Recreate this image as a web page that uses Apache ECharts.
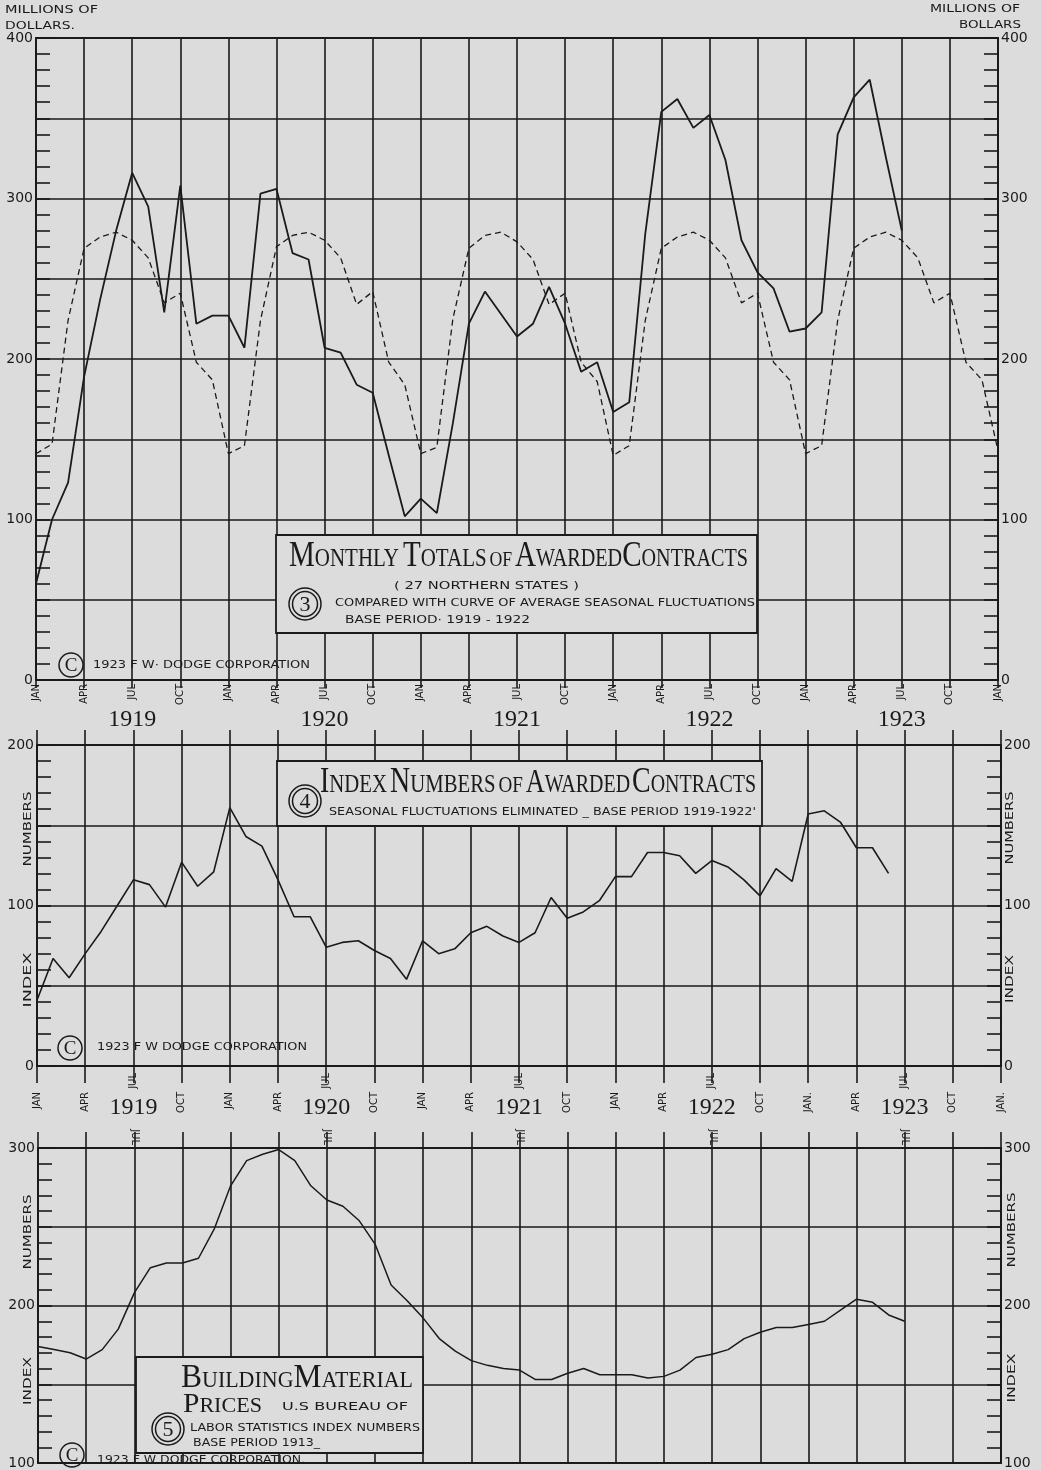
<!DOCTYPE html>
<html><head><meta charset="utf-8">
<script src="https://cdn.jsdelivr.net/npm/echarts@6/dist/echarts.min.js"></script>
<style>html,body{margin:0;padding:0;background:#dcdcdc}#c{width:1041px;height:1470px}</style>
</head><body><div id="c"></div><script>
// ---------------- DATA ----------------
const quarterLabels = ['JAN', 'APR', 'JUL', 'OCT'];
const yearLabels = ['1919', '1920', '1921', '1922', '1923'];

// Chart 3: monthly totals of awarded contracts, millions of dollars, Jan 1919 - Jul 1923
const contractTotals = [
  60, 100, 123, 189, 237, 280, 316, 295, 229, 308, 222, 227,
  227, 207, 303, 306, 266, 262, 207, 204, 184, 179, 140, 102,
  113, 104, 160, 222, 242, 228, 214, 222, 245, 222, 192, 198,
  167, 173, 278, 354, 362, 344, 352, 324, 274, 254, 244, 217,
  219, 229, 340, 363, 374, 326, 280
];
// Chart 3: curve of average seasonal fluctuations, Jan 1919 - Jan 1924
const seasonalCurve = [
  141, 147, 224, 269, 276, 279, 274, 263, 235, 241, 198, 187,
  141, 146, 224, 270, 277, 279, 274, 263, 234, 242, 198, 184,
  141, 145, 225, 269, 277, 279, 273, 262, 234, 241, 198, 186,
  140, 146, 224, 269, 276, 279, 274, 263, 235, 241, 198, 187,
  141, 146, 224, 269, 276, 279, 274, 263, 235, 241, 198, 187,
  143
];
// Chart 4: index numbers of awarded contracts, Jan 1919 - Jun 1923
const indexNumbers = [
  41, 67, 55, 70, 84, 100, 116, 113, 99, 127, 112, 121,
  161, 143, 137, 116, 93, 93, 74, 77, 78, 72, 67, 54,
  78, 70, 73, 83, 87, 81, 77, 83, 105, 92, 96, 103,
  118, 118, 133, 133, 131, 120, 128, 124, 116, 106, 123, 115,
  157, 159, 152, 136, 136, 120
];
// Chart 5: building material prices index (1913 = 100), Jan 1919 - Jul 1923
const materialPrices = [
  174, 172, 170, 166, 172, 185, 208, 224, 227, 227, 230, 249,
  276, 292, 296, 299, 292, 276, 267, 263, 254, 239, 213, 203,
  192, 179, 171, 165, 162, 160, 159, 153, 153, 157, 160, 156,
  156, 156, 154, 155, 159, 167, 169, 172, 179, 183, 186, 186,
  188, 190, 197, 204, 202, 194, 190
];

// ---------------- STYLE ----------------
const INK = '#1a1a1a';
const BG = '#dcdcdc';
const SANS = 'DejaVu Sans';
const SERIF = 'Liberation Serif';

const chart = echarts.init(document.getElementById('c'), null, {renderer: 'canvas', width: 1041, height: 1470});

const mctx = document.createElement('canvas').getContext('2d');
function tw(str, size, family) { mctx.font = size + 'px "' + family + '"'; return mctx.measureText(str).width; }

function quarterName(v) { return quarterLabels[Math.round(v / 3) % 4]; }
function yearName(v) { return (v % 12 === 6) ? yearLabels[(v - 6) / 12] : ''; }

const gridLine = {show: true, lineStyle: {color: INK, width: 1.6}};
const border = {show: true, onZero: false, lineStyle: {color: INK, width: 2}};
const noLine = {show: false, onZero: false};

function xBase(grid, extra) {
  return Object.assign({
    type: 'value', gridIndex: grid, min: 0, max: 60, interval: 3, position: 'bottom',
    axisLine: noLine, axisTick: {show: false}, splitLine: {show: false}, axisLabel: {show: false}
  }, extra);
}
function monthLabel(margin, filter) {
  return {show: true, rotate: 90, margin: margin, color: INK, fontSize: 10, fontFamily: SANS,
    formatter: v => filter(v) ? quarterName(v) : ''};
}
function yearAxis(grid, margin) {
  return xBase(grid, {interval: 6, axisLabel: {show: true, margin: margin, color: INK, fontSize: 24,
    fontFamily: SERIF, formatter: yearName}});
}

const xAxes = [
  // grid 0
  xBase(0, {axisLine: border, splitLine: gridLine,
    axisTick: {show: true, length: 8, lineStyle: {color: INK, width: 1.6}},
    axisLabel: monthLabel(4, v => true)}),
  xBase(0, {position: 'top', axisLine: border}),
  yearAxis(0, 28),
  // grid 1
  xBase(1, {axisLine: border, splitLine: gridLine,
    axisTick: {show: true, length: 17, lineStyle: {color: INK, width: 1.6}},
    axisLabel: Object.assign(monthLabel(26, v => v % 12 !== 6), {
      formatter: v => v % 12 === 6 ? '' : quarterName(v) + ((v === 48 || v === 60) ? '.' : '')})}),
  xBase(1, {position: 'top', axisLine: border,
    axisTick: {show: true, length: 15, lineStyle: {color: INK, width: 1.6}}}),
  xBase(1, {axisLabel: monthLabel(7, v => v % 12 === 6)}),
  yearAxis(1, 30),
  // grid 2
  xBase(2, {axisLine: border, splitLine: gridLine}),
  xBase(2, {position: 'top', axisLine: border,
    axisTick: {show: true, length: 16, lineStyle: {color: INK, width: 1.6}},
    axisLabel: monthLabel(3, v => v % 12 === 6)})
];

function yAx(grid, pos, min, max) {
  return {
    type: 'value', gridIndex: grid, position: pos, min: min, max: max, interval: 50,
    axisLine: {show: true, onZero: false, lineStyle: {color: INK, width: 2}},
    axisTick: {show: true, inside: true, length: 14, lineStyle: {color: INK, width: 1.6}},
    minorTick: {show: true, splitNumber: 5, length: 14, lineStyle: {color: INK, width: 1.6}},
    splitLine: pos === 'left' ? gridLine : {show: false},
    minorSplitLine: {show: false},
    axisLabel: {show: true, margin: 3, color: INK, fontSize: 14, fontFamily: SANS,
      formatter: v => (v % 100 === 0 ? String(v) : '')}
  };
}
const yAxes = [
  yAx(0, 'left', 0, 400), yAx(0, 'right', 0, 400),
  yAx(1, 'left', 0, 200), yAx(1, 'right', 0, 200),
  yAx(2, 'left', 100, 300), yAx(2, 'right', 100, 300)
];

const pairs = arr => arr.map((v, i) => [i, v]);

// ---------------- GRAPHIC HELPERS ----------------
function txt(left, cy, str, size, family, width, z) {
  const w = tw(str, size, family);
  return {type: 'text', x: left, y: cy, scaleX: width ? width / w : 1, z: z || 60,
    style: {text: str, fontSize: size, fontFamily: family, fill: INK, align: 'left', verticalAlign: 'middle'}};
}
function vtxt(cx, cy, str, size, family, len) {
  const w = tw(str, size, family);
  return {type: 'text', x: cx, y: cy, rotation: Math.PI / 2, scaleX: len ? len / w : 1, z: 60,
    style: {text: str, fontSize: size, fontFamily: family, fill: INK, align: 'center', verticalAlign: 'middle'}};
}
function capsTitle(left, baseline, tokens, width, family) {
  let x = 0; const kids = [];
  tokens.forEach(([t, s]) => {
    kids.push({type: 'text', x: x, y: baseline - 0.3 * s, z: 61,
      style: {text: t, fontSize: s, fontFamily: family, fill: INK, align: 'left', verticalAlign: 'middle'}});
    x += tw(t, s, family);
  });
  return {type: 'group', x: left, y: 0, scaleX: width / x, children: kids, z: 61};
}
function box(x1, y1, x2, y2) {
  return {type: 'rect', shape: {x: x1, y: y1, width: x2 - x1, height: y2 - y1}, z: 50,
    style: {fill: BG, stroke: INK, lineWidth: 1.8}};
}
function circle(cx, cy, r, w) {
  return {type: 'circle', shape: {cx: cx, cy: cy, r: r}, z: 61, style: {fill: 'none', stroke: INK, lineWidth: w || 1.5}};
}
function circled(cx, cy, ch) {
  return [circle(cx, cy, 16, 1.5), circle(cx, cy, 12.5, 1.5),
    {type: 'text', x: cx, y: cy + 1, z: 62, style: {text: ch, fontSize: 22, fontFamily: SERIF, fill: INK, align: 'center', verticalAlign: 'middle'}}];
}
function copyright(cx, cy, textLeft, textY, width, str) {
  return [
    circle(cx, cy, 12, 1.5),
    {type: 'text', x: cx, y: cy + 1, z: 62, style: {text: 'C', fontSize: 19, fontFamily: SERIF, fill: INK, align: 'center', verticalAlign: 'middle'}},
    txt(textLeft, textY, str, 11, SANS, width)
  ];
}

const graphics = [
  // axis unit headers
  txt(5, 10, 'MILLIONS OF', 11, SANS, 93),
  txt(5, 26, 'DOLLARS.', 11, SANS, 70),
  txt(930, 9, 'MILLIONS OF', 11, SANS, 90),
  txt(959, 25, 'BOLLARS', 11, SANS, 62),

  // Panel 3 title box
  box(276, 535, 757, 633),
  capsTitle(289, 567, [['M', 36], ['ONTHLY', 26], [' ', 20], ['T', 36], ['OTALS', 26], [' ', 14], ['OF', 22], [' ', 14],
    ['A', 36], ['WARDED', 25], ['C', 36], ['ONTRACTS', 25]], 459, SERIF),
  txt(394, 586, '( 27 NORTHERN STATES )', 10, SANS, 185),
  ...circled(305, 604, '3'),
  txt(335, 603, 'COMPARED WITH CURVE OF AVERAGE SEASONAL FLUCTUATIONS', 10, SANS, 420),
  txt(345, 620, 'BASE PERIOD· 1919 - 1922', 10, SANS, 185),
  ...copyright(71, 665, 93, 665, 217, '1923 F W· DODGE CORPORATION'),

  // Panel 4 title box
  box(277, 761, 762, 826),
  capsTitle(320, 793, [['I', 35], ['NDEX', 26], [' ', 16], ['N', 35], ['UMBERS', 26], [' ', 14], ['OF', 24], [' ', 14],
    ['A', 33], ['WARDED', 25], [' ', 10], ['C', 35], ['ONTRACTS', 25]], 436, SERIF),
  ...circled(305, 801, '4'),
  txt(329, 812, 'SEASONAL FLUCTUATIONS ELIMINATED _ BASE PERIOD 1919-1922\'', 10, SANS, 427),
  ...copyright(70, 1048, 97, 1047, 210, '1923 F W DODGE CORPORATION'),

  // Panel 5 title box
  box(136, 1357, 423, 1453),
  capsTitle(181, 1388, [['B', 33], ['UILDING', 23], ['M', 33], ['ATERIAL', 23]], 232, SERIF),
  capsTitle(183, 1413, [['P', 28], ['RICES', 21]], 79, SERIF),
  txt(282, 1407, 'U.S BUREAU OF', 11, SANS, 126),
  ...circled(168, 1429, '5'),
  txt(190, 1428, 'LABOR STATISTICS INDEX NUMBERS', 10, SANS, 230),
  txt(193, 1443, 'BASE PERIOD 1913_', 10, SANS, 127),
  ...copyright(72, 1455, 97, 1460, 208, '1923 F W DODGE CORPORATION.'),

  // vertical axis names
  vtxt(28, 829, 'NUMBERS', 11, SANS, 75), vtxt(28, 980, 'INDEX', 11, SANS, 55),
  vtxt(1010, 828, 'NUMBERS', 11, SANS, 73), vtxt(1010, 979, 'INDEX', 11, SANS, 48),
  vtxt(28, 1232, 'NUMBERS', 11, SANS, 75), vtxt(28, 1381, 'INDEX', 11, SANS, 48),
  vtxt(1012, 1230, 'NUMBERS', 11, SANS, 75), vtxt(1012, 1378, 'INDEX', 11, SANS, 49)
];

chart.setOption({
  backgroundColor: BG,
  animation: false,
  grid: [
    {left: 36, top: 38, width: 962, height: 642},
    {left: 37, top: 745, width: 964, height: 321},
    {left: 38, top: 1148, width: 963, height: 319}
  ],
  xAxis: xAxes,
  yAxis: yAxes,
  graphic: graphics,
  series: [
    {type: 'line', name: 'Monthly totals', xAxisIndex: 0, yAxisIndex: 0, data: pairs(contractTotals),
      symbol: 'none', lineStyle: {color: INK, width: 1.8}, z: 5},
    {type: 'line', name: 'Average seasonal fluctuations', xAxisIndex: 0, yAxisIndex: 0, data: pairs(seasonalCurve),
      symbol: 'none', lineStyle: {color: INK, width: 1.3, type: [6, 4]}, z: 5},
    {type: 'line', name: 'Index numbers', xAxisIndex: 3, yAxisIndex: 2, data: pairs(indexNumbers),
      symbol: 'none', lineStyle: {color: INK, width: 1.6}, z: 5},
    {type: 'line', name: 'Building material prices', xAxisIndex: 7, yAxisIndex: 4, data: pairs(materialPrices),
      symbol: 'none', lineStyle: {color: INK, width: 1.5}, z: 5}
  ]
});
</script></body></html>
